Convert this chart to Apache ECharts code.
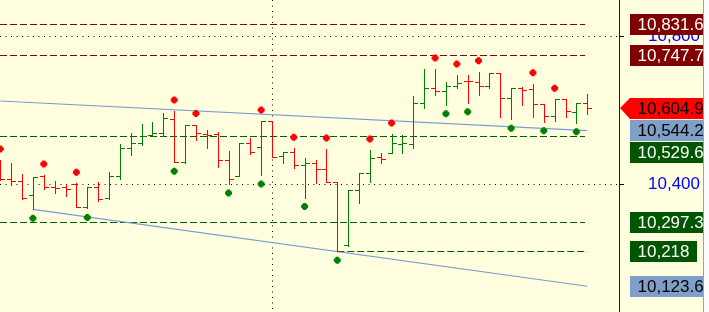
<!DOCTYPE html>
<html><head><meta charset="utf-8">
<script src="https://cdn.jsdelivr.net/npm/echarts@6/dist/echarts.min.js"></script>
<style>html,body{margin:0;padding:0;background:#ffffe0;}#c{width:709px;height:312px;}</style>
</head><body><div id="c"></div>
<script>
// ---- data ----
const opens = [10451.4, 10412.7, 10408.1, 10370.3, 10422.4, 10391.9, 10391.1, 10400.0, 10337.0, 10391.1,
 10361.4, 10421.6, 10497.3, 10510.0, 10531.6, 10537.8, 10575.7, 10458.7, 10559.5, 10535.1,
 10535.1, 10464.9, 10422.4, 10511.6, 10499.2, 10570.3, 10475.7, 10487.3, 10451.4, 10455.9,
 10439.7, 10404.6, 10235.1, 10383.8, 10428.9, 10473.0, 10484.6, 10508.1, 10508.1, 10618.1,
 10658.7, 10652.2, 10664.9, 10679.2, 10676.5, 10664.9, 10699.2, 10631.6, 10658.7, 10656.0,
 10615.4, 10583.8, 10628.9, 10593.8, 10618.1];
const highs = [10464.9, 10455.9, 10425.7, 10418.1, 10424.3, 10408.1, 10400.0, 10401.9, 10391.1, 10404.6,
 10432.4, 10508.9, 10537.0, 10561.4, 10566.8, 10591.1, 10597.3, 10559.5, 10560.8, 10545.9,
 10541.4, 10489.2, 10511.6, 10525.1, 10570.3, 10571.6, 10486.5, 10496.5, 10470.3, 10464.9,
 10494.6, 10405.9, 10383.8, 10428.9, 10491.9, 10483.0, 10535.1, 10532.4, 10637.8, 10710.8,
 10710.8, 10674.9, 10694.6, 10694.6, 10703.5, 10699.2, 10700.0, 10658.7, 10661.4, 10671.1,
 10616.2, 10628.9, 10629.7, 10618.1, 10642.4];
const lows = [10410.8, 10397.3, 10359.5, 10331.6, 10386.5, 10376.5, 10367.6, 10337.0, 10333.8, 10355.4,
 10360.8, 10412.7, 10477.6, 10505.4, 10530.5, 10530.5, 10458.7, 10458.1, 10518.9, 10498.1,
 10446.8, 10400.0, 10421.6, 10481.1, 10424.3, 10472.2, 10457.6, 10442.4, 10363.5, 10401.4,
 10404.1, 10218.0, 10233.2, 10347.9, 10404.1, 10455.9, 10483.8, 10485.1, 10496.5, 10604.6,
 10639.2, 10614.3, 10658.7, 10619.7, 10640.5, 10658.7, 10581.1, 10574.9, 10613.5, 10581.9,
 10568.4, 10571.1, 10581.1, 10565.7, 10588.4];
const closes = [10413.5, 10408.1, 10361.4, 10418.1, 10391.1, 10390.5, 10386.5, 10337.8, 10391.1, 10360.8,
 10421.6, 10497.3, 10510.0, 10529.7, 10537.8, 10577.6, 10460.3, 10559.5, 10537.0, 10532.4,
 10464.9, 10412.7, 10511.6, 10487.3, 10570.3, 10473.8, 10486.5, 10451.4, 10455.9, 10439.7,
 10404.6, 10219.0, 10383.8, 10428.9, 10471.1, 10466.8, 10510.0, 10510.0, 10618.1, 10658.7,
 10651.4, 10666.2, 10673.0, 10678.4, 10665.7, 10699.2, 10631.6, 10658.7, 10654.1, 10615.4,
 10583.8, 10628.9, 10597.3, 10618.1, 10604.9];

const highMarkerBars = [0, 4, 7, 16, 18, 24, 27, 30, 34, 36, 40, 42, 44, 49, 51];
const lowMarkerBars = [3, 8, 16, 21, 24, 28, 31, 41, 43, 47, 50, 53];

const upperTrend = [[0, 10624.3], [54, 10544.2]];
const lowerTrend = [[3, 10331.6], [54, 10123.6]];

const levelValues = [10831.6, 10747.7, 10529.6, 10297.3, 10218];
const levelStartBars = [null, null, null, null, 31];
const levelKinds = ['resist', 'resist', 'support', 'support', 'support'];

const gridValues = [10400, 10800];
const gridBars = [25];

const priceLabelValues = [10831.6, 10747.7, 10604.9, 10544.2, 10529.6, 10297.3, 10218, 10123.6];
const priceLabelTexts = ['10,831.6', '10,747.7', '10,604.9', '10,544.2', '10,529.6', '10,297.3', '10,218', '10,123.6'];
const priceLabelKinds = ['resist', 'resist', 'last', 'trend', 'support', 'support', 'support', 'trend'];

// ---- layout / style ----
const X_MIN = -0.028, X_MAX = 56.92, LEVEL_END = 53.8;
const Y_MIN = 10054.06, Y_MAX = 10897.3;
const KIND_STYLE = {
  resist: {bg: '#800000', fg: '#ffffff', line: '#8b0000'},
  support: {bg: '#005500', fg: '#ffffff', line: '#005f00'},
  last: {bg: '#ff0000', fg: '#000000'},
  trend: {bg: '#7f9fc8', fg: '#000000'}
};
const FONT_FAMILY = '"Liberation Sans", Arial, sans-serif';
const FONT = '17px ' + FONT_FAMILY;
const mctx = document.createElement('canvas').getContext('2d');
mctx.font = FONT;

const chart = echarts.init(document.getElementById('c'), null, {renderer: 'canvas'});

function renderOHLC(params, api) {
  const i = api.value(0), o = api.value(1), h = api.value(2), l = api.value(3), c = api.value(4);
  const pH = api.coord([i, h]), pL = api.coord([i, l]), pO = api.coord([i, o]), pC = api.coord([i, c]);
  const x = Math.round(pH[0]) + 0.5;
  const color = c >= o ? '#008000' : '#ff0000';
  const yO = Math.round(pO[1]) + 0.5, yC = Math.round(pC[1]) + 0.5;
  const st = {stroke: color, lineWidth: 1};
  return {type: 'group', children: [
    {type: 'line', shape: {x1: x, y1: Math.round(pH[1]), x2: x, y2: Math.round(pL[1]) + 1}, style: st},
    {type: 'line', shape: {x1: x - 4.5, y1: yO, x2: x, y2: yO}, style: st},
    {type: 'line', shape: {x1: x, y1: yC, x2: x + 4.5, y2: yC}, style: st}
  ]};
}

function segmentRenderer(color, dash) {
  return function (params, api) {
    const p1 = api.coord([api.value(0), api.value(1)]);
    const p2 = api.coord([api.value(2), api.value(3)]);
    let shape;
    if (Math.abs(p1[1] - p2[1]) < 0.01) {
      const y = Math.round(p1[1]) + 0.5;
      shape = {x1: p1[0], y1: y, x2: p2[0], y2: y};
    } else {
      const x = Math.round(p1[0]) + 0.5;
      shape = {x1: x, y1: p1[1], x2: x, y2: p2[1]};
    }
    return {type: 'line', shape, style: {stroke: color, lineWidth: 1, lineDash: dash}};
  };
}

function renderLabels(params, api) {
  const H = 21;
  const items = priceLabelValues.map((v, k) => ({k, y: api.coord([0, v])[1]}));
  items.sort((a, b) => a.y - b.y);
  let prevBottom = -Infinity;
  const tops = {};
  items.forEach(it => {
    let top = it.y - H / 2;
    if (top < prevBottom + 1) top = prevBottom + 1;
    tops[it.k] = top; prevBottom = top + H;
  });
  const k = params.dataIndex;
  const top = Math.round(tops[k]);
  const cy = api.coord([0, priceLabelValues[k]])[1];
  const st = KIND_STYLE[priceLabelKinds[k]];
  const text = priceLabelTexts[k];
  const left = 630;
  const w = mctx.measureText(text).width + 15;
  const children = [];
  if (priceLabelKinds[k] === 'last') {
    children.push({type: 'polygon', shape: {points: [[620, Math.round(cy)], [left, top], [left + w, top], [left + w, top + H], [left, top + H]]}, style: {fill: st.bg}});
  } else {
    children.push({type: 'rect', shape: {x: left, y: top, width: w, height: H}, style: {fill: st.bg}});
  }
  children.push({type: 'text', style: {text: text, x: left + 7.5, y: top + H / 2 + 0.5, fill: st.fg, font: FONT, verticalAlign: 'middle', align: 'left'}});
  return {type: 'group', children};
}

const series = [];
// dotted grid
series.push({type: 'custom', z: 1, silent: true, renderItem: segmentRenderer('#000000', [1, 4.5]),
  encode: {x: [0, 2], y: [1, 3]},
  data: gridValues.map(v => [X_MIN, v, X_MAX, v]).concat(gridBars.map(b => [b, Y_MAX, b, Y_MIN]))});
// level lines
['resist', 'support'].forEach(kind => {
  const rows = [];
  levelValues.forEach((v, k) => { if (levelKinds[k] === kind) rows.push([levelStartBars[k] === null ? X_MIN : levelStartBars[k], v, LEVEL_END, v]); });
  series.push({type: 'custom', z: 2, silent: true, renderItem: segmentRenderer(KIND_STYLE[kind].line, [7, 3]),
    encode: {x: [0, 2], y: [1, 3]}, data: rows});
});
// trend lines
[upperTrend, lowerTrend].forEach(t => series.push({type: 'line', data: t, symbol: 'none', silent: true, z: 3,
  lineStyle: {color: '#7b9bcf', width: 1.2}}));
// OHLC bars
series.push({type: 'custom', z: 4, renderItem: renderOHLC, clip: true,
  encode: {x: 0, y: [1, 2, 3, 4]},
  data: opens.map((o, i) => [i, o, highs[i], lows[i], closes[i]])});
// markers
const MARK = 'path://M2,0H5V1H6V2H7V5H6V6H5V7H2V6H1V5H0V2H1V1H2Z';
series.push({type: 'scatter', z: 5, symbol: MARK, symbolSize: 7, symbolOffset: [0, -11],
  itemStyle: {color: '#ff0000', opacity: 1}, data: highMarkerBars.map(i => [i, highs[i]])});
series.push({type: 'scatter', z: 5, symbol: MARK, symbolSize: 7, symbolOffset: [0, 9],
  itemStyle: {color: '#008000', opacity: 1}, data: lowMarkerBars.map(i => [i, lows[i]])});
// price labels
series.push({type: 'custom', z: 10, clip: false, renderItem: renderLabels,
  encode: {y: 1}, data: priceLabelValues.map((v, k) => [0, v])});

chart.setOption({
  animation: false,
  backgroundColor: '#ffffe0',
  grid: {left: 0, right: 90, top: 0, bottom: 0},
  xAxis: {type: 'value', min: X_MIN, max: X_MAX, show: false},
  yAxis: {type: 'value', position: 'right', min: Y_MIN, max: Y_MAX, scale: true,
    axisLine: {show: true, onZero: false, lineStyle: {color: '#0000ff', width: 1}},
    axisTick: {show: true, customValues: gridValues, length: 5, lineStyle: {color: '#000'}},
    axisLabel: {customValues: gridValues, color: '#0000ff', fontSize: 17, fontFamily: FONT_FAMILY, margin: 29},
    splitLine: {show: false}},
  series: series,
  graphic: [
    {type: 'rect', z: 100, shape: {x: 703, y: 0, width: 6, height: 312}, style: {fill: '#fbfbfb'}},
    {type: 'line', z: 101, shape: {x1: 703.5, y1: 0, x2: 703.5, y2: 312}, style: {stroke: '#a0a0a0', lineWidth: 1}}
  ]
});
</script></body></html>
